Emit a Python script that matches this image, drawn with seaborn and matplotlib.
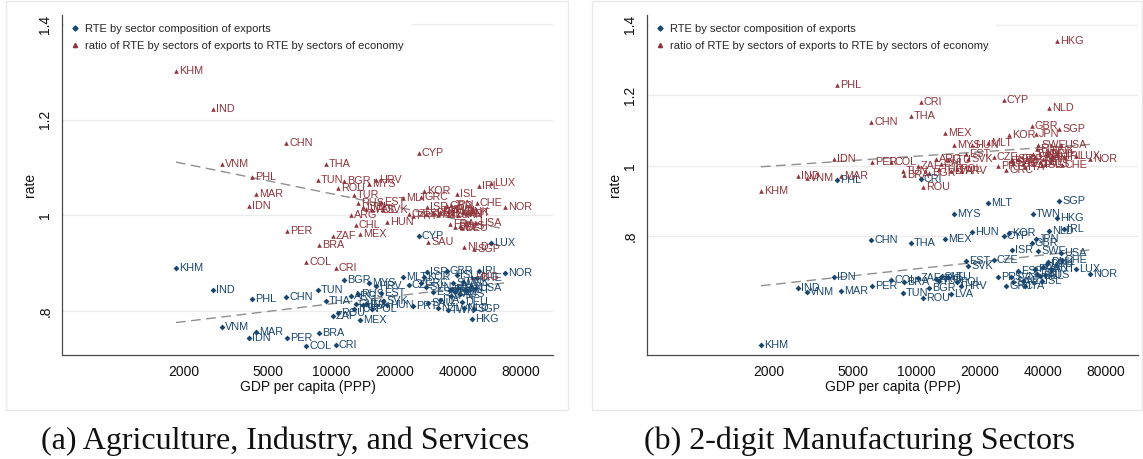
import numpy as np
import pandas as pd
import matplotlib
matplotlib.use("Agg")
import matplotlib.pyplot as plt
from matplotlib.patches import Rectangle
from matplotlib.lines import Line2D
from matplotlib.ticker import NullLocator
import seaborn as sns

# Countries and GDP per capita (PPP)
iso = ["KHM", "IND", "VNM", "IDN", "PHL", "MAR", "CHN", "PER", "COL", "TUN",
       "BRA", "THA", "ZAF", "CRI", "ROU", "BGR", "ARG", "TUR", "CHL", "RUS",
       "MEX", "LTU", "LVA", "MYS", "POL", "HRV", "EST", "SVK", "HUN", "MLT",
       "CZE", "PRT", "CYP", "GRC", "KOR", "SVN", "ISR", "SAU", "ESP", "NZL",
       "ITA", "GBR", "TWN", "FRA", "JPN", "FIN", "SWE", "BEL", "ISL", "CAN",
       "AUS", "DEU", "DNK", "NLD", "AUT", "HKG", "SGP", "CHE", "USA", "IRL",
       "LUX", "NOR"]
gdp = [1830, 2750, 3030, 4080, 4210, 4400, 6110, 6180, 7600, 8670,
       8770, 9460, 10210, 10550, 10790, 11510, 12440, 12850, 13130, 13430,
       13730, 14190, 14660, 15140, 15660, 16360, 17270, 17660, 18450, 21980,
       23450, 24500, 26170, 26900, 27660, 28270, 28600, 28900, 30500, 32200,
       32950, 35550, 36000, 36800, 37150, 37600, 38000, 38800, 39700, 40100,
       41000, 42000, 42400, 42850, 43800, 46800, 47800, 49400, 48800, 50500,
       57600, 67100]

nan = np.nan
# (a) Agriculture, Industry, and Services
exp_a = [0.890, 0.844, 0.767, 0.744, 0.825, 0.756, 0.829, 0.744, 0.727, 0.844,
         0.754, 0.821, 0.790, 0.729, 0.796, 0.865, 0.831, 0.805, 0.815, 0.836,
         0.781, 0.812, 0.815, 0.859, 0.804, 0.852, 0.838, 0.821, 0.812, 0.871,
         0.855, 0.810, 0.957, 0.858, 0.872, 0.850, 0.881, 0.817, 0.840, 0.806,
         0.823, 0.883, 0.803, 0.843, 0.831, 0.846, 0.859, 0.840, 0.876, 0.848,
         0.836, 0.819, 0.861, 0.806, 0.844, 0.783, 0.804, 0.869, 0.848, 0.884,
         0.942, 0.879]
ratio_a = [1.302, 1.222, 1.107, 1.019, 1.080, 1.045, 1.151, 0.967, 0.902, 1.074,
           0.938, 1.107, 0.957, 0.890, 1.057, 1.072, 1.001, 1.042, 0.980, 1.026,
           0.961, 1.017, 1.013, 1.065, 1.011, 1.074, 1.028, 1.011, 0.986, 1.036,
           1.003, 0.999, 1.130, 1.038, 1.051, 1.003, 1.017, 0.944, 1.005, 1.001,
           1.007, 1.019, 1.010, 0.982, 1.022, 1.011, 1.003, 0.976, 1.045, 1.001,
           0.978, 0.973, 1.007, 0.934, 1.005, 0.871, 0.930, 1.026, 0.984, 1.061,
           1.068, 1.017]
# (b) 2-digit Manufacturing Sectors
exp_b = [0.490, 0.652, 0.641, 0.683, 0.959, 0.646, 0.789, 0.658, 0.675, 0.638,
         0.669, 0.780, 0.681, 0.962, 0.626, 0.652, 0.678, 0.672, 0.683, nan,
         0.791, 0.683, 0.635, 0.863, 0.669, 0.658, 0.729, 0.717, 0.811, 0.894,
         0.732, 0.683, 0.800, 0.658, 0.809, 0.683, 0.760, 0.669, 0.700, 0.672,
         0.658, 0.780, 0.863, 0.706, 0.791, 0.692, 0.757, 0.686, 0.672, 0.712,
         0.689, 0.720, 0.726, 0.814, 0.706, 0.851, 0.900, 0.732, 0.752, 0.820,
         0.706, 0.692]
ratio_b = [0.928, 0.971, 0.965, 1.019, 1.230, 0.971, 1.124, 1.011, 1.011, 0.985,
           0.974, 1.141, 0.999, 1.181, 0.939, 0.979, 1.019, 0.990, 1.005, nan,
           1.093, 1.016, 0.985, 1.059, 0.991, 0.985, 1.033, 1.019, 1.059, 1.065,
           1.025, 0.999, 1.187, 0.988, 1.087, 1.013, 1.019, 1.008, 1.019, 1.005,
           0.996, 1.113, 1.033, 1.025, 1.090, 1.048, 1.059, 1.011, 1.002, 1.019,
           1.005, 1.033, 1.042, 1.164, 1.025, 1.355, 1.104, 1.002, 1.059, 1.028,
           1.028, 1.019]

series_names = ["RTE by sector composition of exports",
                "ratio of RTE by sectors of exports to RTE by sectors of economy"]
captions = ["(a) Agriculture, Industry, and Services",
            "(b) 2-digit Manufacturing Sectors"]
yticks = [0.8, 1.0, 1.2, 1.4]
ytick_labels = [".8", "1", "1.2", "1.4"]
xticks = [2000, 5000, 10000, 20000, 40000, 80000]
xtick_labels = ["2000", "5000", "10000", "20000", "40000", "80000"]

NAVY = "#1a476f"
MAROON = "#90353b"
FIT = "#8f8f8f"
AXIS = "#4a4a4a"

sns.set_theme(style="white")
plt.rcParams["font.family"] = ["Liberation Sans", "DejaVu Sans"]

W, H = 1143, 459
fig = plt.figure(figsize=(W / 100, H / 100), dpi=100)


def px_rect(x0, y0, x1, y1):
    return [x0 / W, 1 - y1 / H, (x1 - x0) / W, (y1 - y0) / H]


panels = [
    dict(exp=exp_a, ratio=ratio_a, rect=px_rect(62, 15, 553, 355),
         ylim=(0.708, 1.419), frame=(6, 1, 568, 410), caption=captions[0], cx=285),
    dict(exp=exp_b, ratio=ratio_b, rect=px_rect(647, 15, 1138, 355),
         ylim=(0.463, 1.428), frame=(592, 1, 1142, 410), caption=captions[1], cx=860),
]

n = len(iso)
for p in panels:
    # light border of each graph region
    x0, y0, x1, y1 = p["frame"]
    fig.patches.append(Rectangle((x0 / W, 1 - y1 / H), (x1 - x0) / W, (y1 - y0) / H,
                                 transform=fig.transFigure, fill=False,
                                 edgecolor="#e9e9e9", lw=1.0, zorder=0))

    df = pd.DataFrame({
        "iso": iso * 2,
        "gdp": gdp * 2,
        "rate": list(p["exp"]) + list(p["ratio"]),
        "series": [series_names[0]] * n + [series_names[1]] * n,
    }).dropna()

    ax = fig.add_axes(p["rect"])
    ax.set_xscale("log")

    specs = [(series_names[0], NAVY, "D", 9), (series_names[1], MAROON, "^", 11)]
    for name, color, marker, size in specs:
        sub = df[df["series"] == name]
        sns.scatterplot(data=sub, x="gdp", y="rate", color=color, marker=marker,
                        s=size, linewidth=0, legend=False, ax=ax, zorder=3)
        sns.regplot(data=sub, x="gdp", y="rate", logx=True, scatter=False, ci=None,
                    truncate=True, ax=ax,
                    line_kws=dict(color=FIT, lw=1.0, ls=(0, (7, 4)), zorder=2))
        for _, r in sub.iterrows():
            ax.annotate(r["iso"], (r["gdp"], r["rate"]), xytext=(2.2, 0),
                        textcoords="offset points", ha="left", va="center",
                        fontsize=7.8, color=color, zorder=4)

    ax.set_xlim(526, 113600)
    ax.set_ylim(*p["ylim"])
    ax.set_xticks(xticks)
    ax.set_xticklabels(xtick_labels)
    ax.xaxis.set_minor_locator(NullLocator())
    ax.set_yticks(yticks)
    ax.set_yticklabels(ytick_labels, rotation=90, va="center")
    ax.yaxis.grid(True, color="#ececec", lw=0.9)
    ax.xaxis.grid(False)
    ax.set_axisbelow(True)
    for side in ("top", "right"):
        ax.spines[side].set_visible(False)
    for side in ("left", "bottom"):
        ax.spines[side].set_color(AXIS)
        ax.spines[side].set_linewidth(0.9)
    ax.tick_params(axis="both", which="major", direction="out", length=4,
                   width=0.8, color=AXIS, labelsize=10, labelcolor="#111111", pad=3)
    ax.set_xlabel("GDP per capita (PPP)", fontsize=10, color="#111111", labelpad=1)
    ax.set_ylabel("rate", fontsize=10, color="#111111", labelpad=1)

    handles = [Line2D([], [], marker="D", color=NAVY, ls="", ms=2.6),
               Line2D([], [], marker="^", color=MAROON, ls="", ms=3.0)]
    leg = ax.legend(handles, series_names, loc="upper left", fontsize=8,
                    frameon=True, facecolor="white", edgecolor="white",
                    framealpha=1, handlelength=0.7, handletextpad=0.6,
                    borderaxespad=0.3, borderpad=0.5, labelspacing=0.62)
    leg.set_zorder(5)

    fig.text(p["cx"] / W, 1 - 441 / H, p["caption"], ha="center", va="center",
             fontsize=23, family="Liberation Serif", color="#111111")

fig.savefig("out.png", dpi=100, facecolor="white")
